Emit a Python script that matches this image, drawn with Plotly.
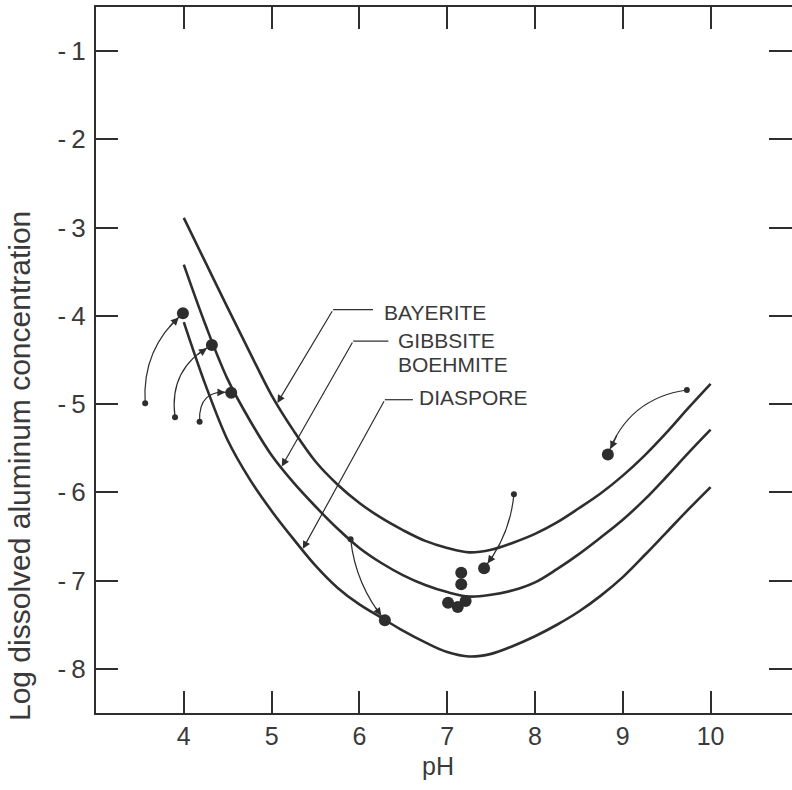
import numpy as np
import plotly.graph_objects as go

# ---------------- data ----------------
ph_grid = [4.0, 4.25, 4.5, 4.75, 5.0, 5.25, 5.5, 5.75, 6.0, 6.25, 6.5, 6.75, 7.0,
           7.25, 7.5, 7.75, 8.0, 8.25, 8.5, 8.75, 9.0, 9.25, 9.5, 9.75, 10.0]
bayerite = [-2.89, -3.40, -3.91, -4.41, -4.90, -5.30, -5.65, -5.91, -6.12, -6.29, -6.43, -6.55, -6.63,
            -6.68, -6.65, -6.57, -6.47, -6.34, -6.18, -6.01, -5.81, -5.58, -5.32, -5.04, -4.77]
gibbsite = [-3.42, -4.11, -4.72, -5.18, -5.58, -5.89, -6.16, -6.41, -6.63, -6.80, -6.94, -7.05, -7.13,
            -7.18, -7.16, -7.11, -7.02, -6.87, -6.70, -6.51, -6.31, -6.08, -5.82, -5.55, -5.29]
diaspore = [-4.07, -4.79, -5.41, -5.85, -6.21, -6.53, -6.83, -7.08, -7.27, -7.42, -7.57, -7.70, -7.81,
            -7.86, -7.83, -7.74, -7.63, -7.50, -7.35, -7.17, -6.96, -6.71, -6.45, -6.19, -5.94]

# initial (small) and final (large) measured points joined by arrows
start_ph = [3.56, 3.90, 4.18, 5.90, 7.76, 9.73]
start_log = [-4.99, -5.15, -5.20, -6.53, -6.02, -4.84]
end_ph = [3.99, 4.32, 4.54, 6.29, 7.42, 8.83]
end_log = [-3.97, -4.33, -4.87, -7.45, -6.86, -5.57]
arrow_bend = [0.25, 0.35, 0.6, -0.15, 0.15, -0.3]

# final points without arrows
cluster_ph = [7.16, 7.16, 7.01, 7.12, 7.21]
cluster_log = [-6.91, -7.04, -7.25, -7.30, -7.23]

# curve labels (leader corner, end of horizontal leader, arrow tip on curve)
label_lines = [["BAYERITE"], ["GIBBSITE", "BOEHMITE"], ["DIASPORE"]]
label_text_ph = [6.27, 6.43, 6.67]
label_text_log = [-3.96, -4.28, -4.93]
label_line_step = 0.272
label_corner_ph = [5.70, 5.93, 6.29]
label_corner_log = [-3.93, -4.285, -4.95]
label_hend_ph = [6.155, 6.33, 6.61]
label_tip_ph = [5.06, 5.11, 5.35]

x_ticks = [4, 5, 6, 7, 8, 9, 10]
y_ticks = [-1, -2, -3, -4, -5, -6, -7, -8]

# ---------------- style ----------------
INK = "#2e2e2e"
TXT = "#3a3a3a"
FONT = "Liberation Sans, Arial, sans-serif"

fig = go.Figure()

curves = [bayerite, gibbsite, diaspore]
for c in curves:
    fig.add_trace(go.Scatter(x=ph_grid, y=c, mode="lines",
                             line=dict(color=INK, width=2.6, shape="spline", smoothing=1.0),
                             hoverinfo="skip", showlegend=False))

fig.add_trace(go.Scatter(x=start_ph, y=start_log, mode="markers", yaxis="y2",
                         marker=dict(size=6, color=INK), showlegend=False))
fig.add_trace(go.Scatter(x=end_ph + cluster_ph, y=end_log + cluster_log, mode="markers",
                         marker=dict(size=12, color=INK), showlegend=False))

shapes = []
annotations = []

# curved arrows
for x0, y0, x1, y1, b in zip(start_ph, start_log, end_ph, end_log, arrow_bend):
    dx, dy = x1 - x0, y1 - y0
    cx = (x0 + x1) / 2 - b * dy
    cy = (y0 + y1) / 2 + b * dx
    shapes.append(dict(type="path", xref="x", yref="y",
                       path=f"M {x0},{y0} Q {cx},{cy} {x1},{y1}",
                       line=dict(color=INK, width=1.2)))
    t = 0.8
    tx = (1 - t) ** 2 * x0 + 2 * (1 - t) * t * cx + t ** 2 * x1
    ty = (1 - t) ** 2 * y0 + 2 * (1 - t) * t * cy + t ** 2 * y1
    annotations.append(dict(x=x1, y=y1, ax=tx, ay=ty, xref="x", yref="y", axref="x", ayref="y",
                            text="", showarrow=True, arrowhead=2, arrowsize=1.3,
                            arrowwidth=1.2, arrowcolor=INK, standoff=6))

# label leaders
for lines, txp, tyl, cph, clog, hph, tip, c in zip(label_lines, label_text_ph, label_text_log,
                                                     label_corner_ph, label_corner_log, label_hend_ph,
                                                     label_tip_ph, curves):
    shapes.append(dict(type="line", xref="x", yref="y", x0=cph, y0=clog, x1=hph, y1=clog,
                       line=dict(color=INK, width=1.2)))
    tip_log = float(np.interp(tip, ph_grid, c))
    annotations.append(dict(x=tip, y=tip_log, ax=cph, ay=clog, xref="x", yref="y", axref="x", ayref="y",
                            text="", showarrow=True, arrowhead=2, arrowsize=1.3,
                            arrowwidth=1.2, arrowcolor=INK, standoff=1))
    for i, name in enumerate(lines):
        annotations.append(dict(x=txp, y=tyl - i * label_line_step, xref="x", yref="y", text=name,
                                showarrow=False, xanchor="left", yanchor="middle", borderpad=0,
                                font=dict(family=FONT, size=21, color=TXT)))

# axis titles
annotations.append(dict(text="Log dissolved aluminum concentration", xref="paper", yref="paper",
                        x=-0.109, y=0.35, textangle=-90, showarrow=False,
                        xanchor="center", yanchor="middle",
                        font=dict(family=FONT, size=30, color=TXT)))
annotations.append(dict(text="pH", xref="paper", yref="paper", x=0.491, y=-0.075,
                        showarrow=False, xanchor="center", yanchor="middle",
                        font=dict(family=FONT, size=25, color=TXT)))

fig.update_layout(
    width=792, height=790,
    margin=dict(l=96, r=0, t=7, b=77),
    paper_bgcolor="white", plot_bgcolor="white",
    shapes=shapes, annotations=annotations,
    xaxis=dict(range=[3, 3 + 696 / 87.8], tickvals=x_ticks, ticktext=[str(v) for v in x_ticks],
               ticks="inside", ticklen=22, tickwidth=1.5, tickcolor=INK,
               showline=True, linewidth=2, linecolor=INK, mirror="ticks",
               showgrid=False, zeroline=False, ticklabelstandoff=0,
               tickfont=dict(family=FONT, size=25, color=TXT)),
    yaxis=dict(range=[-8.5, -0.5], tickvals=y_ticks,
               ticktext=["-\u2009" + str(-v) for v in y_ticks],
               ticks="inside", ticklen=22, tickwidth=1.5, tickcolor=INK,
               showline=True, linewidth=2, linecolor=INK,
               showgrid=False, zeroline=False, ticklabelstandoff=3,
               tickfont=dict(family=FONT, size=26, color=TXT)),
    yaxis2=dict(range=[-8.5, -0.5], overlaying="y", side="right", tickvals=y_ticks,
                ticks="inside", ticklen=23, tickwidth=1.5, tickcolor=INK,
                showticklabels=False, showline=False, showgrid=False, zeroline=False),
)

fig.write_html("out.html", config={"displayModeBar": False},
               post_script="document.body.style.margin='0';document.body.style.overflow='hidden';")
